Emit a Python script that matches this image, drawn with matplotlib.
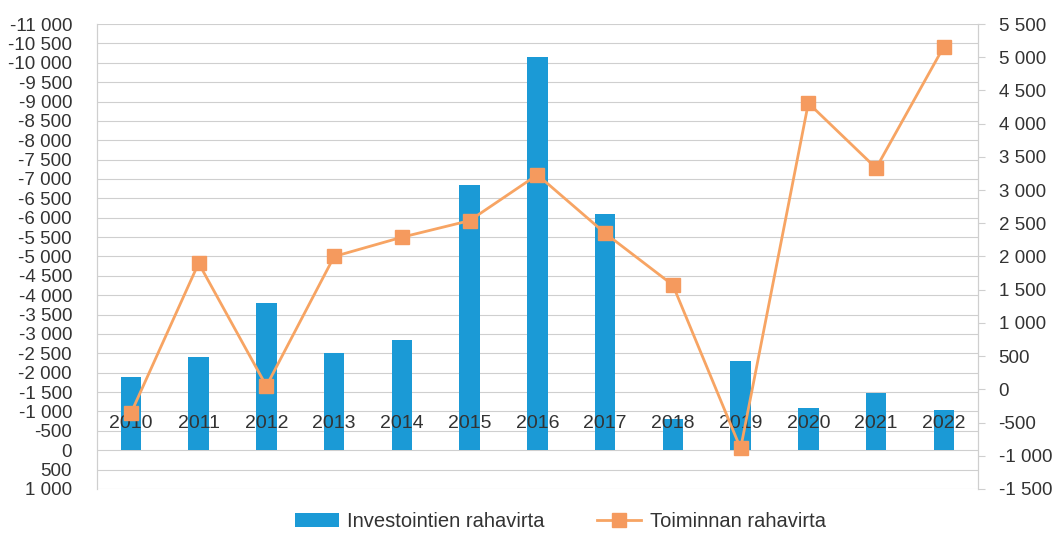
import numpy as np
import matplotlib.pyplot as plt
from matplotlib.ticker import FuncFormatter, MultipleLocator

plt.rcParams['font.family'] = ['Liberation Sans', 'DejaVu Sans']
plt.rcParams['axes.unicode_minus'] = False

years = ['2010', '2011', '2012', '2013', '2014', '2015', '2016',
         '2017', '2018', '2019', '2020', '2021', '2022']
investointi = [-1900, -2400, -3800, -2500, -2850, -6850, -10150,
               -6100, -800, -2300, -1100, -1480, -1050]
toiminta = [-360, 1900, 50, 2000, 2290, 2540, 3230,
            2350, 1570, -890, 4310, 3330, 5160]

bar_col = '#1B9AD6'
line_col = '#F7A463'
txt_col = '#333333'
grid_col = '#CFCFCF'


def fmt(v, pos):
    return f"{int(round(v)):,}".replace(",", " ")


fig = plt.figure(figsize=(10.57, 5.37), dpi=100)
ax = fig.add_axes([0.0918, 0.0894, 0.8332, 0.8659])
x = np.arange(len(years))

ax.bar(x, investointi, width=0.3, color=bar_col, zorder=2,
       label='Investointien rahavirta')
ax.set_ylim(1000, -11000)
ax.set_xlim(-0.5, len(years) - 0.5)
ax.yaxis.set_major_locator(MultipleLocator(500))
ax.yaxis.set_major_formatter(FuncFormatter(fmt))
ax.grid(axis='y', color=grid_col, lw=0.8)
ax.set_axisbelow(True)
ax.tick_params(axis='y', length=0, pad=18, labelsize=13.5, labelcolor=txt_col)
ax.set_xticks([])

# year labels sit inside the plot, like the Excel original
for i, y in enumerate(years):
    ax.text(i, -700, y, ha='center', va='center', fontsize=14, color=txt_col, zorder=5)

ax2 = ax.twinx()
ax2.plot(x, toiminta, color=line_col, lw=2, marker='s', markersize=10,
         markerfacecolor='#F59A5E', markeredgecolor='#F59A5E', zorder=4,
         label='Toiminnan rahavirta')
ax2.set_ylim(-1500, 5500)
ax2.yaxis.set_major_locator(MultipleLocator(500))
ax2.yaxis.set_major_formatter(FuncFormatter(fmt))
ax2.tick_params(axis='y', length=5, color=grid_col, pad=10, labelsize=13.5,
                labelcolor=txt_col)

for a in (ax, ax2):
    for s in ('top', 'bottom'):
        a.spines[s].set_visible(False)
    a.spines['left'].set_color(grid_col)
    a.spines['right'].set_color(grid_col)

h1, l1 = ax.get_legend_handles_labels()
h2, l2 = ax2.get_legend_handles_labels()
fig.legend(h1 + h2, l1 + l2, loc='lower center', bbox_to_anchor=(0.53, -0.022),
           ncol=2, frameon=False, fontsize=14.5, handlelength=2.2,
           handletextpad=0.4, columnspacing=2.6, labelcolor=txt_col)

fig.savefig('out.png', dpi=100)
